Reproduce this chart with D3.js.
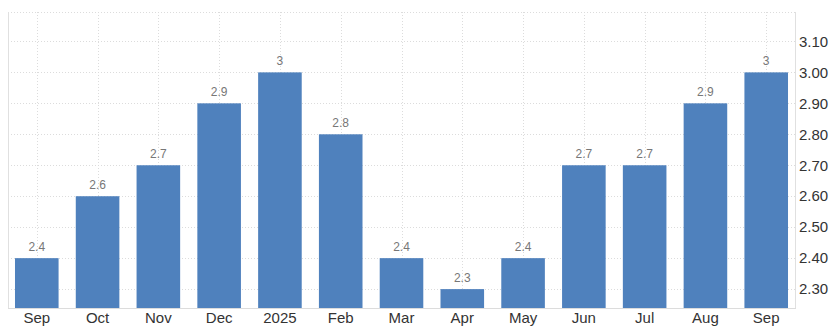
<!DOCTYPE html>
<html>
<head>
<meta charset="utf-8">
<script src="https://cdn.jsdelivr.net/npm/d3@7"></script>
<style>
  body { margin: 0; background: #fff; }
  svg { display: block; font-family: "Liberation Sans", Arial, sans-serif; }
</style>
</head>
<body>
<div id="chart"></div>
<script>
let months = ["Sep", "Oct", "Nov", "Dec", "2025", "Feb", "Mar", "Apr", "May", "Jun", "Jul", "Aug", "Sep"];
let values = [2.4, 2.6, 2.7, 2.9, 3, 2.8, 2.4, 2.3, 2.4, 2.7, 2.7, 2.9, 3];
let yTicks = [2.3, 2.4, 2.5, 2.6, 2.7, 2.8, 2.9, 3.0, 3.1];

let w = 834, h = 335;
let padLeft = 8, padRight = 795, padTop = 12, padBottom = 308;

const svg = d3.select("#chart").append("svg")
    .attr("width", w)
    .attr("height", h);

let xScale = d3.scaleBand()
    .domain(d3.range(months.length))
    .range([padLeft, padRight])
    .paddingInner(0.283)
    .paddingOuter(0.115);

let yScale = d3.scaleLinear()
    .domain([2.239, 3.195])
    .range([padBottom, padTop]);

// horizontal grid
svg.append("g")
    .selectAll("line")
    .data(yTicks.concat([3.195]))
    .enter()
    .append("line")
    .attr("x1", padLeft)
    .attr("x2", padRight)
    .attr("y1", d => Math.round(yScale(d)) + 0.5)
    .attr("y2", d => Math.round(yScale(d)) + 0.5)
    .attr("stroke", "#dcdcdc")
    .attr("stroke-dasharray", "1,2");

// vertical grid at bar centres
svg.append("g")
    .selectAll("line")
    .data(months)
    .enter()
    .append("line")
    .attr("x1", (d, i) => Math.round(xScale(i) + xScale.bandwidth() / 2) + 0.5)
    .attr("x2", (d, i) => Math.round(xScale(i) + xScale.bandwidth() / 2) + 0.5)
    .attr("y1", padTop)
    .attr("y2", padBottom)
    .attr("stroke", "#dcdcdc")
    .attr("stroke-dasharray", "1,2");

// left and right borders
svg.append("line")
    .attr("x1", padLeft + 0.5).attr("x2", padLeft + 0.5)
    .attr("y1", padTop).attr("y2", padBottom)
    .attr("stroke", "#e0e0e0");

svg.append("line")
    .attr("x1", padRight + 0.5).attr("x2", padRight + 0.5)
    .attr("y1", padTop).attr("y2", padBottom)
    .attr("stroke", "#e0e0e0");

// bars
svg.selectAll("rect.bar")
    .data(values)
    .enter()
    .append("rect")
    .attr("class", "bar")
    .attr("x", (d, i) => xScale(i))
    .attr("width", xScale.bandwidth())
    .attr("y", d => yScale(d))
    .attr("height", d => padBottom - yScale(d))
    .attr("fill", "#4f81bd");

// value labels
svg.selectAll("text.val")
    .data(values)
    .enter()
    .append("text")
    .attr("class", "val")
    .attr("x", (d, i) => xScale(i) + xScale.bandwidth() / 2)
    .attr("y", d => yScale(d) - 7)
    .attr("text-anchor", "middle")
    .attr("font-size", "12px")
    .attr("fill", "#777")
    .text(d => d);

// bottom axis line
svg.append("line")
    .attr("x1", padLeft).attr("x2", padRight + 1)
    .attr("y1", padBottom + 0.5).attr("y2", padBottom + 0.5)
    .attr("stroke", "#dcdcdc");

// x labels
svg.selectAll("text.xlab")
    .data(months)
    .enter()
    .append("text")
    .attr("class", "xlab")
    .attr("x", (d, i) => xScale(i) + xScale.bandwidth() / 2)
    .attr("y", 323)
    .attr("text-anchor", "middle")
    .attr("font-size", "15px")
    .attr("fill", "#333")
    .text(d => d);

// right axis labels
svg.selectAll("text.ylab")
    .data(yTicks)
    .enter()
    .append("text")
    .attr("class", "ylab")
    .attr("x", 799)
    .attr("y", d => yScale(d))
    .attr("dy", "0.35em")
    .attr("font-size", "15px")
    .attr("fill", "#333")
    .text(d => d3.format(".2f")(d));
</script>
</body>
</html>
